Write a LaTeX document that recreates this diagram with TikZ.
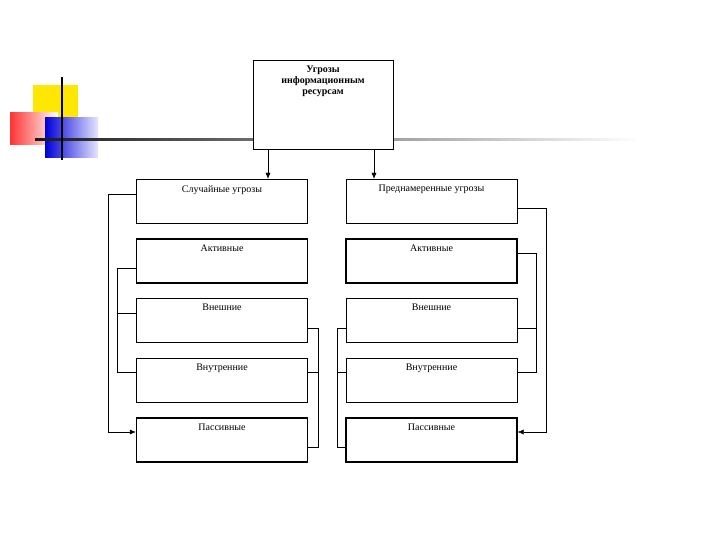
\documentclass[tikz,border=0pt]{standalone}
\usepackage{fontspec}
\setmainfont{Liberation Serif}
\usetikzlibrary{arrows.meta}
\begin{document}
\begin{tikzpicture}[x=1pt,y=-1pt,
    box/.style={draw, thin, minimum width=171pt, minimum height=44pt, inner sep=0pt},
    bbox/.style={box, line width=1.4pt},
    ttl/.style={font=\fontsize{10}{11}\selectfont},
    link/.style={thin},
    arr/.style={thin, -{Latex[length=6pt,width=5pt]}}]
    \useasboundingbox (0,0) rectangle (720,540);
    % Decoration
    \fill [yellow!90!orange] (33,85) rectangle (78,120);
    \shade [left color=red!80, right color=white] (10,113) rectangle (58,145);
    \shade [left color=blue!85!black, right color=blue!10] (45,118) rectangle (98,158);
    \shade [left color=black!90, right color=white] (35,138.5) rectangle (640,141);
    \draw [line width=1.3pt] (62,77) -- (62,160);

    % Top box
    \node [box, fill=white, minimum width=140pt, minimum height=89pt,
           label={[font=\bfseries\fontsize{10}{11}\selectfont, align=center, below=3pt]north:Угрозы\\информационным\\ресурсам}]
           (root) at (323,104.5) {};

    % Left column
    \node [box, label={[ttl, below=3pt]north:Случайные угрозы}] (s1) at (222,201) {};
    \node [bbox, label={[ttl, below=3pt]north:Активные}] (s2) at (222,261) {};
    \node [box, label={[ttl, below=3pt]north:Внешние}] (s3) at (222,320) {};
    \node [box, label={[ttl, below=3pt]north:Внутренние}] (s4) at (222,380) {};
    \node [bbox, label={[ttl, below=3pt]north:Пассивные}] (s5) at (222,440) {};

    % Right column
    \node [box, label={[ttl, below=3pt]north:Преднамеренные угрозы}] (p1) at (431.5,201) {};
    \node [bbox, label={[ttl, below=3pt]north:Активные}] (p2) at (431.5,261) {};
    \node [box, label={[ttl, below=3pt]north:Внешние}] (p3) at (431.5,320) {};
    \node [box, label={[ttl, below=3pt]north:Внутренние}] (p4) at (431.5,380) {};
    \node [bbox, label={[ttl, below=3pt]north:Пассивные}] (p5) at (431.5,440) {};

    % Arrows from top
    \coordinate (r1) at (268,149);
    \coordinate (r2) at (374,149);
    \draw [arr] (r1) -- (r1 |- s1.north);
    \draw [arr] (r2) -- (r2 |- p1.north);

    % Left column links
    \coordinate (la) at (108,0);
    \coordinate (lb) at (117,0);
    \coordinate (lc) at (318,0);
    \draw [arr] ([yshift=7pt]s1.west) coordinate (a) -- (la |- a)
        -- (la |- 0,432) -- (s5.west |- 0,432);
    \draw [link] ([yshift=-7pt]s2.west) coordinate (a) -- (lb |- a)
        -- (lb |- 0,372) -- (s4.west |- 0,372);
    \draw [link] (lb |- 0,313) -- (s3.west |- 0,313);
    \draw [link] ([yshift=-8pt]s3.east) coordinate (a) -- (lc |- a)
        -- (lc |- 0,447) -- (s5.east |- 0,447);
    \draw [link] (lc |- 0,372) -- (s4.east |- 0,372);

    % Right column links
    \coordinate (ra) at (546,0);
    \coordinate (rb) at (536,0);
    \coordinate (rc) at (337,0);
    \draw [arr] ([yshift=-7pt]p1.east) coordinate (a) -- (ra |- a)
        -- (ra |- 0,432) -- (p5.east |- 0,432);
    \draw [link] ([yshift=8pt]p2.east) coordinate (a) -- (rb |- a)
        -- (rb |- 0,372) -- (p4.east |- 0,372);
    \draw [link] (rb |- 0,328) -- (p3.east |- 0,328);
    \draw [link] ([yshift=-8pt]p3.west) coordinate (a) -- (rc |- a)
        -- (rc |- 0,447) -- (p5.west |- 0,447);
    \draw [link] (rc |- 0,372) -- (p4.west |- 0,372);
\end{tikzpicture}
\end{document}
